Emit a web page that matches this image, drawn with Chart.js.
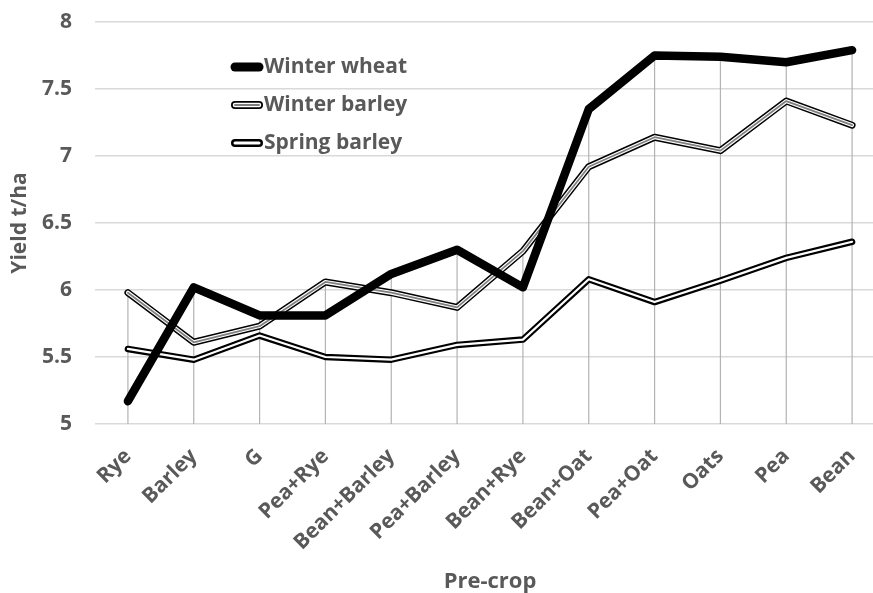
<!DOCTYPE html>
<html><head><meta charset="utf-8">
<script src="https://cdn.jsdelivr.net/npm/chart.js@4/dist/chart.umd.min.js"></script>
<style>
html,body{margin:0;padding:0;background:#fff;overflow:hidden;}
#wrap{width:873px;height:593px;overflow:hidden;position:relative;}
canvas{display:block;}
</style>
</head><body>
<div id="wrap"><canvas id="c" width="885" height="593"></canvas></div>
<script>
const categories = ['Rye','Barley','G','Pea+Rye','Bean+Barley','Pea+Barley','Bean+Rye','Bean+Oat','Pea+Oat','Oats','Pea','Bean'];
const winterWheat = [5.17,6.02,5.81,5.81,6.12,6.30,6.02,7.35,7.75,7.74,7.70,7.79];
const winterBarley = [5.98,5.61,5.73,6.06,5.98,5.87,6.29,6.92,7.14,7.04,7.41,7.23];
const springBarley = [5.56,5.48,5.66,5.50,5.48,5.59,5.63,6.08,5.91,6.07,6.24,6.36];
const seriesNames = ['Winter wheat','Winter barley','Spring barley'];
const yMin = 5, yMax = 8, yStep = 0.5;
const xTitle = 'Pre-crop';
const yTitle = 'Yield t/ha';

const FONT = '"Open Sans", "DejaVu Sans", sans-serif';
const TXT = '#595959';

const dropLines = {
  id: 'dropLines',
  beforeDatasetsDraw(chart) {
    const {ctx, chartArea, scales} = chart;
    ctx.save();
    ctx.strokeStyle = '#b3b3b3';
    ctx.lineWidth = 1.2;
    categories.forEach((c, i) => {
      const top = Math.max(winterWheat[i], winterBarley[i], springBarley[i]);
      const x = scales.x.getPixelForValue(i);
      const y = scales.y.getPixelForValue(top);
      ctx.beginPath();
      ctx.moveTo(x, y);
      ctx.lineTo(x, chartArea.bottom);
      ctx.stroke();
    });
    ctx.restore();
  }
};

const insideLegend = {
  id: 'insideLegend',
  afterDraw(chart) {
    const ctx = chart.ctx;
    const x0 = 235, x1 = 259, tx = 264;
    const ys = [67, 105, 143];
    ctx.save();
    ctx.lineCap = 'round';
    const seg = (y, color, w) => {
      ctx.strokeStyle = color; ctx.lineWidth = w;
      ctx.beginPath(); ctx.moveTo(x0, y); ctx.lineTo(x1, y); ctx.stroke();
    };
    seg(ys[0], '#000', 9);
    seg(ys[1], '#000', 8); seg(ys[1], '#fff', 4.5); seg(ys[1], '#7f7f7f', 2);
    seg(ys[2], '#000', 8); seg(ys[2], '#fff', 3);
    ctx.font = 'bold 21px ' + FONT;
    ctx.fillStyle = TXT;
    ctx.textAlign = 'left';
    ctx.textBaseline = 'middle';
    seriesNames.forEach((n, i) => ctx.fillText(n, tx, ys[i]));
    ctx.restore();
  }
};

const common = {pointRadius: 0, pointHoverRadius: 0, tension: 0, borderCapStyle: 'round', borderJoinStyle: 'round', fill: false};

new Chart(document.getElementById('c'), {
  type: 'line',
  data: {
    labels: categories,
    datasets: [
      Object.assign({label: seriesNames[0], data: winterWheat, borderColor: '#000', borderWidth: 8.5, order: 0}, common),
      Object.assign({label: seriesNames[1] + ' core', data: winterBarley, borderColor: '#7f7f7f', borderWidth: 1.8, order: 1}, common),
      Object.assign({label: seriesNames[1] + ' inner', data: winterBarley, borderColor: '#ffffff', borderWidth: 4, order: 2}, common),
      Object.assign({label: seriesNames[1], data: winterBarley, borderColor: '#000', borderWidth: 7, order: 3}, common),
      Object.assign({label: seriesNames[2] + ' inner', data: springBarley, borderColor: '#ffffff', borderWidth: 2.2, order: 4}, common),
      Object.assign({label: seriesNames[2], data: springBarley, borderColor: '#000', borderWidth: 6.5, order: 5}, common)
    ]
  },
  options: {
    responsive: false,
    devicePixelRatio: 1,
    animation: false,
    events: [],
    layout: {padding: {top: 22, left: 0, right: 0, bottom: 0}},
    plugins: {legend: {display: false}, tooltip: {enabled: false}},
    scales: {
      x: {
        type: 'category',
        offset: true,
        grid: {display: false},
        border: {display: false},
        ticks: {
          autoSkip: false, maxRotation: 45, minRotation: 45, padding: 12,
          color: TXT, font: {family: FONT, size: 21, weight: 'bold'}
        },
        title: {display: true, text: xTitle, color: TXT, font: {family: FONT, size: 22, weight: 'bold', lineHeight: 1.0}, padding: {top: 0, bottom: 0}},
        afterFit(s) { s.height = 169; s.paddingLeft = 0; s.paddingRight = 0; }
      },
      y: {
        min: yMin, max: yMax,
        grid: {color: '#d9d9d9', lineWidth: 1.5, drawTicks: false},
        border: {display: false},
        ticks: {stepSize: yStep, padding: 23, color: TXT, font: {family: FONT, size: 21, weight: 'bold'},
          callback: v => String(v)},
        title: {display: true, text: yTitle, color: TXT, font: {family: FONT, size: 21, weight: 'bold', lineHeight: 1.2}, padding: {top: 7, bottom: 0}},
        afterFit(s) { s.width = 95; s.paddingTop = 0; s.paddingBottom = 0; }
      }
    }
  },
  plugins: [dropLines, insideLegend]
});
</script>
</body></html>
